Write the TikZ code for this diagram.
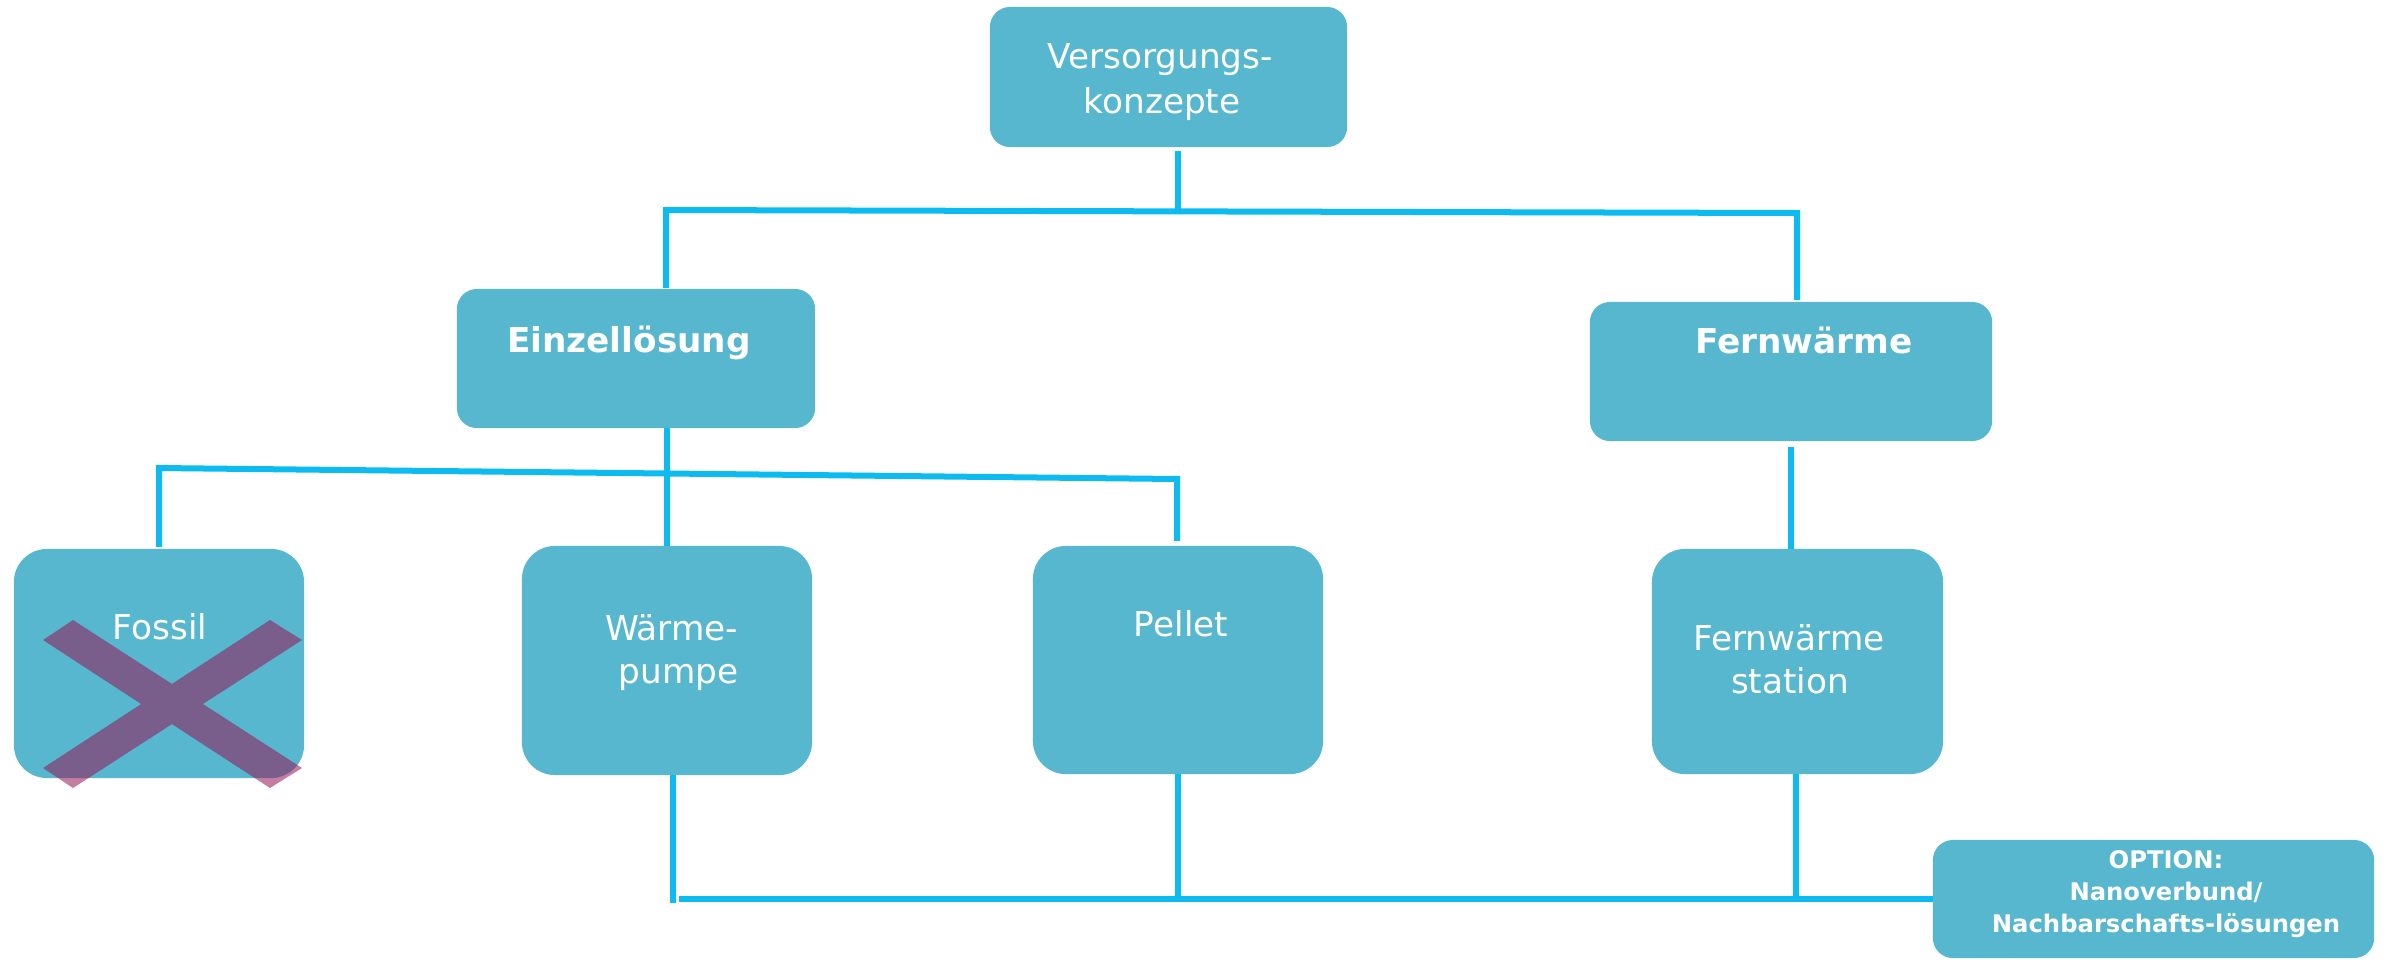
\documentclass[tikz,border=0pt]{standalone}
\usepackage{fontspec}
\setmainfont{DejaVu Sans}
\definecolor{boxfill}{RGB}{87,183,206}
\definecolor{linec}{RGB}{14,187,240}
\definecolor{crossc}{RGB}{150,20,85}
\begin{document}
\begin{tikzpicture}[x=0.01cm,y=-0.01cm,
  bx/.style={fill=boxfill,draw=none,inner sep=0pt,outer sep=0pt,rounded corners=0.2cm},
  tallbx/.style={bx,rounded corners=0.33cm},
  conn/.style={draw=linec,line width=0.06cm},
  txt/.style={text=white,inner sep=0pt,anchor=base,font=\fontsize{9.75}{12}\selectfont},
  btxt/.style={txt,font=\fontsize{9.75}{12}\selectfont\bfseries},
  otxt/.style={txt,font=\fontsize{6.9}{9}\selectfont\bfseries}]
\useasboundingbox (0,0) rectangle (2392,960);
% boxes
\node[bx,minimum width=3.57cm,minimum height=1.40cm] (top) at (1168.5,77) {};
\node[bx,minimum width=3.58cm,minimum height=1.39cm] (einzel) at (636,358.5) {};
\node[bx,minimum width=4.02cm,minimum height=1.39cm] (fern) at (1791,371.5) {};
\node[tallbx,minimum width=2.90cm,minimum height=2.29cm] (fossil) at (159,663.5) {};
\node[tallbx,minimum width=2.90cm,minimum height=2.29cm] (wp) at (667,660.5) {};
\node[tallbx,minimum width=2.90cm,minimum height=2.28cm] (pellet) at (1178,660) {};
\node[tallbx,minimum width=2.91cm,minimum height=2.25cm] (fst) at (1797.5,661.5) {};
\node[bx,minimum width=4.41cm,minimum height=1.18cm] (opt) at (2153.5,899) {};
% texts
\node[txt] (t1) at (1160,68) {Versorgungs-};
\node[txt] (t2) at (1162,113) {konzepte};
\node[btxt] (t3) at (629,352) {Einzellösung};
\node[btxt] (t4) at (1804,353) {Fernwärme};
\node[txt] (t5) at (160,639) {Fossil};
\node[txt,anchor=base east] (t6) at (739,640) {Wärme-};
\node[txt,anchor=base east] (t7) at (739,683) {pumpe};
\node[txt] (t8) at (1181,636) {Pellet};
\node[txt] (t9) at (1789,650) {Fernwärme};
\node[txt] (t10) at (1790,693) {station};
\node[otxt] (t11) at (2166,868) {OPTION:};
\node[otxt] (t12) at (2166,900) {Nanoverbund/};
\node[otxt] (t13) at (2166,932) {Nachbarschafts-lösungen};
% junction coordinates
\coordinate (j1) at (1178,211);
\coordinate (jl) at (666,210);
\coordinate (jr) at (1797,213);
\coordinate (k1) at (159,468);
\coordinate (k2) at (1177,479);
\coordinate (jw) at (667,428);
\coordinate (jf) at (1791,447);
\coordinate (b1) at (679,899);
\coordinate (b0) at (673,903);
% connectors
\draw[conn] ([yshift=-0.04cm]j1 |- top.south) -- (j1);
\draw[conn] ([yshift=0.01cm]jl |- einzel.north) -- (jl) -- (jr) -- ([yshift=0.02cm]jr |- fern.north);
\draw[conn] (jw) -- (jw |- wp.north);
\draw[conn] ([yshift=0.02cm]k1 |- fossil.north) -- (k1) -- (k2) -- ([yshift=0.05cm]k2 |- pellet.north);
\draw[conn] (jf) -- (jf |- fst.north);
\draw[conn] (b0 |- wp.south) -- (b0);
\draw[conn] (b1) -- (b1 -| opt.west);
\draw[conn] (pellet.south) -- (pellet.south |- b1);
\draw[conn] ([xshift=-0.015cm]fst.south) -- ([xshift=-0.015cm]fst.south |- b1);
% cross over Fossil
\fill[crossc,opacity=0.55]
  (43,640) -- (73,620) -- (302,768) -- (270,788) -- cycle
  (270,620) -- (302,640) -- (73,788) -- (43,768) -- cycle;
\end{tikzpicture}
\end{document}
